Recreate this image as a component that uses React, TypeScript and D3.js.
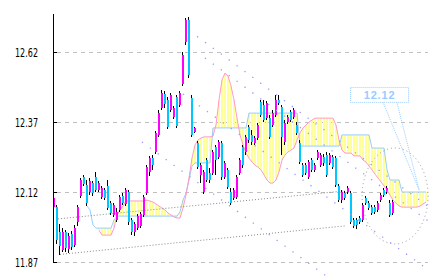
import React from 'react';
import * as d3 from 'd3';

const W = 433;
const H = 276;
const PLOT_LEFT = 53;
const PLOT_RIGHT = 428;
const PLOT_TOP = 14;
const PLOT_BOTTOM = 262;

const priceDomain = [11.87, 12.756];
const indexDomain = [0, 124];
const tickValues = [11.87, 12.12, 12.37, 12.62];
const tickLabels = ['11.87', '12.12', '12.37', '12.62'];

const opens = [
  12.066, 12.066, 11.977, 11.913, 11.977, 11.916, 11.970, 11.930, 12.013, 12.106,
  12.174, 12.145, 12.120, 12.152, 12.174, 12.127, 12.102, 12.127, 12.142, 12.080,
  12.038, 12.020, 12.056, 12.106, 12.077, 12.120, 12.020, 11.977, 11.991, 11.998,
  12.038, 12.116, 12.192, 12.241, 12.263, 12.324, 12.420, 12.470, 12.449, 12.413,
  12.388, 12.459, 12.431, 12.506, 12.656, 12.734, 12.456, 12.334, 12.295, 12.181,
  12.120, 12.234, 12.188, 12.188, 12.281, 12.245, 12.295, 12.174, 12.199, 12.120,
  12.098, 12.102, 12.188, 12.281, 12.263, 12.352, 12.324, 12.295, 12.313, 12.442,
  12.431, 12.384, 12.384, 12.359, 12.395, 12.449, 12.424, 12.299, 12.370, 12.406,
  12.388, 12.359, 12.295, 12.216, 12.216, 12.174, 12.234, 12.199, 12.241, 12.216,
  12.245, 12.252, 12.224, 12.245, 12.241, 12.142, 12.091, 12.116, 12.120, 12.116,
  12.020, 12.020, 12.027, 12.020, 12.098, 12.080, 12.066, 12.066, 12.056, 12.091,
  12.127, 12.120, 12.080, 12.045,
];

const closes = [
  12.098, 11.948, 11.927, 11.977, 11.919, 11.963, 11.923, 11.991, 12.066, 12.163,
  12.149, 12.080, 12.159, 12.116, 12.127, 12.152, 12.134, 12.098, 12.063, 12.045,
  12.073, 12.049, 12.102, 12.080, 12.127, 12.013, 11.977, 12.006, 12.034, 12.041,
  12.102, 12.209, 12.241, 12.216, 12.331, 12.402, 12.474, 12.435, 12.352, 12.467,
  12.420, 12.356, 12.474, 12.609, 12.734, 12.538, 12.324, 12.349, 12.209, 12.216,
  12.192, 12.163, 12.163, 12.263, 12.234, 12.299, 12.174, 12.224, 12.138, 12.080,
  12.127, 12.174, 12.234, 12.216, 12.317, 12.306, 12.299, 12.313, 12.359, 12.395,
  12.377, 12.438, 12.317, 12.402, 12.449, 12.438, 12.317, 12.367, 12.388, 12.377,
  12.413, 12.331, 12.227, 12.181, 12.188, 12.227, 12.199, 12.216, 12.263, 12.252,
  12.224, 12.181, 12.252, 12.209, 12.145, 12.091, 12.120, 12.098, 12.134, 12.013,
  11.998, 12.002, 12.013, 12.073, 12.080, 12.063, 12.045, 12.049, 12.080, 12.109,
  12.109, 12.134, 12.038, 12.084,
];

const highs = [
  12.106, 12.073, 12.006, 11.991, 11.984, 11.973, 11.980, 12.002, 12.073, 12.170,
  12.181, 12.163, 12.170, 12.159, 12.192, 12.159, 12.142, 12.134, 12.163, 12.088,
  12.080, 12.063, 12.109, 12.116, 12.134, 12.127, 12.027, 12.013, 12.041, 12.049,
  12.109, 12.216, 12.249, 12.252, 12.338, 12.413, 12.484, 12.481, 12.459, 12.474,
  12.427, 12.467, 12.481, 12.620, 12.742, 12.745, 12.467, 12.352, 12.302, 12.224,
  12.199, 12.241, 12.206, 12.270, 12.288, 12.306, 12.302, 12.231, 12.206, 12.134,
  12.134, 12.181, 12.241, 12.288, 12.324, 12.359, 12.341, 12.320, 12.367, 12.449,
  12.449, 12.445, 12.395, 12.413, 12.467, 12.467, 12.431, 12.377, 12.395, 12.413,
  12.420, 12.370, 12.306, 12.224, 12.224, 12.234, 12.241, 12.224, 12.270, 12.259,
  12.256, 12.263, 12.259, 12.252, 12.249, 12.149, 12.127, 12.124, 12.142, 12.124,
  12.027, 12.027, 12.034, 12.080, 12.106, 12.088, 12.073, 12.073, 12.088, 12.116,
  12.134, 12.142, 12.091, 12.091,
];

const lows = [
  12.056, 11.934, 11.895, 11.906, 11.906, 11.902, 11.913, 11.923, 11.998, 12.098,
  12.142, 12.070, 12.109, 12.106, 12.120, 12.120, 12.095, 12.091, 12.056, 12.038,
  12.031, 12.013, 12.049, 12.073, 12.070, 12.002, 11.966, 11.963, 11.984, 11.991,
  12.031, 12.109, 12.177, 12.199, 12.256, 12.317, 12.413, 12.420, 12.345, 12.406,
  12.381, 12.349, 12.424, 12.499, 12.645, 12.527, 12.317, 12.331, 12.202, 12.152,
  12.113, 12.156, 12.152, 12.181, 12.181, 12.238, 12.163, 12.167, 12.131, 12.073,
  12.091, 12.095, 12.181, 12.206, 12.252, 12.295, 12.288, 12.288, 12.306, 12.388,
  12.370, 12.377, 12.309, 12.352, 12.388, 12.431, 12.252, 12.288, 12.363, 12.370,
  12.381, 12.324, 12.220, 12.174, 12.181, 12.167, 12.192, 12.192, 12.234, 12.209,
  12.213, 12.174, 12.216, 12.202, 12.138, 12.084, 12.080, 12.091, 12.113, 12.006,
  11.991, 11.988, 12.006, 12.013, 12.073, 12.056, 12.038, 12.041, 12.049, 12.084,
  12.102, 12.113, 12.031, 12.038,
];

// Leading span A (pink) and leading span B (light blue), shifted forward
const spanA: (number | null)[] = [
  null, null, null, null, null, null, null, null, null, null,
  null, null, null, null, null, 11.984, 11.966, 11.966, 11.966, 11.966,
  11.991, 12.038, 12.056, 12.070, 12.088, 12.088, 12.088, 12.088, 12.088, 12.088,
  12.088, 12.091, 12.088, 12.084, 12.077, 12.070, 12.063, 12.056, 12.045, 12.038,
  12.031, 12.027, 12.027, 12.063, 12.109, 12.170, 12.241, 12.288, 12.306, 12.313,
  12.317, 12.317, 12.317, 12.320, 12.359, 12.449, 12.520, 12.545, 12.534, 12.499,
  12.449, 12.384, 12.324, 12.288, 12.259, 12.241, 12.227, 12.216, 12.209, 12.199,
  12.181, 12.163, 12.152, 12.152, 12.163, 12.192, 12.234, 12.252, 12.263, 12.270,
  12.277, 12.306, 12.331, 12.349, 12.359, 12.370, 12.377, 12.384, 12.384, 12.384,
  12.384, 12.384, 12.384, 12.384, 12.359, 12.306, 12.270, 12.259, 12.259, 12.259,
  12.249, 12.249, 12.249, 12.234, 12.227, 12.213, 12.199, 12.184, 12.170, 12.156,
  12.142, 12.127, 12.109, 12.091, 12.080, 12.070, 12.066, 12.066, 12.066, 12.066,
  12.066, 12.066, 12.070, 12.077, 12.084,
];

const spanB: (number | null)[] = [
  null, null, null, null, null, null, null, null, null, null,
  null, 12.070, 12.056, 12.002, 11.991, 11.991, 11.991, 11.991, 11.991, 11.991,
  12.020, 12.034, 12.034, 12.034, 12.034, 12.034, 12.034, 12.034, 12.034, 12.034,
  12.034, 12.034, 12.034, 12.034, 12.034, 12.034, 12.034, 12.034, 12.034, 12.034,
  12.034, 12.034, 12.049, 12.091, 12.116, 12.163, 12.213, 12.224, 12.224, 12.224,
  12.224, 12.224, 12.224, 12.349, 12.349, 12.349, 12.349, 12.349, 12.349, 12.349,
  12.349, 12.349, 12.349, 12.349, 12.349, 12.402, 12.402, 12.402, 12.402, 12.402,
  12.402, 12.402, 12.402, 12.402, 12.402, 12.402, 12.402, 12.402, 12.402, 12.402,
  12.402, 12.402, 12.284, 12.284, 12.284, 12.284, 12.284, 12.284, 12.284, 12.284,
  12.284, 12.284, 12.284, 12.284, 12.284, 12.284, 12.324, 12.324, 12.324, 12.324,
  12.324, 12.324, 12.324, 12.324, 12.324, 12.324, 12.277, 12.277, 12.277, 12.277,
  12.277, 12.199, 12.163, 12.163, 12.163, 12.163, 12.120, 12.120, 12.120, 12.120,
  12.120, 12.120, 12.120, 12.120, 12.120,
];

// Hand-drawn parallel trend lines (bar index, price)
const trendLines = [
  { x1: 47.7, p1: 12.676, x2: 125.3, p2: 12.064 },
  { x1: 50.3, p1: 12.599, x2: 125.3, p2: 12.012 },
  { x1: 29.3, p1: 12.299, x2: 90.7, p2: 11.82 },
  { x1: 43.0, p1: 12.47, x2: 125.3, p2: 11.838 },
];

// Rising gray channel lines
const channelLines = [
  { x1: 1.3, p1: 12.024, x2: 97, p2: 12.124 },
  { x1: 2.0, p1: 11.897, x2: 97, p2: 11.999 },
];

// Gray dotted ellipse
const ellipseCenter = { x: 113.7, p: 12.106 };
const ellipseRadius = { x: 11, p: 0.1715 };

// Price callout
const calloutLabel = '12.12';
const calloutBox = { x1: 98.7, x2: 118, pTop: 12.495, pBottom: 12.442 };
const calloutTailBase = [109.7, 114.3];
const calloutTarget = { x: 121.7, p: 12.127 };

const UP = '#ff00ff';
const DOWN = '#00c8ff';

export default function App() {
  const xs = d3.scaleLinear().domain(indexDomain).range([54, 426]);
  const ys = d3.scaleLinear().domain(priceDomain).range([PLOT_BOTTOM, PLOT_TOP]);

  const lineA = d3
    .line<number | null>()
    .defined((d) => d != null)
    .x((_, i) => xs(i))
    .y((d) => ys(d as number));

  const cloud = spanA
    .map((a, i) => ({ a, b: spanB[i], i }))
    .filter((d) => d.a != null && d.b != null);

  const cx = xs(ellipseCenter.x);
  const cy = ys(ellipseCenter.p);
  const rx = xs(ellipseCenter.x + ellipseRadius.x) - cx;
  const ry = ys(ellipseCenter.p - ellipseRadius.p) - cy;

  const bx1 = xs(calloutBox.x1);
  const bx2 = xs(calloutBox.x2);
  const by1 = ys(calloutBox.pTop);
  const by2 = ys(calloutBox.pBottom);

  return (
    <svg
      width={W}
      height={H}
      viewBox={`0 0 ${W} ${H}`}
      style={{ position: 'absolute', left: 0, top: 0, background: '#fff' }}
    >
      {/* gridlines */}
      {tickValues.map((t) => (
        <line
          key={'g' + t}
          x1={PLOT_LEFT + 4}
          x2={PLOT_RIGHT}
          y1={Math.round(ys(t)) + 0.5}
          y2={Math.round(ys(t)) + 0.5}
          stroke="#c0c0c0"
          strokeDasharray="4 4"
        />
      ))}

      {/* cloud stripes */}
      {cloud.map((d) => {
        const y1 = ys(d.a as number);
        const y2 = ys(d.b as number);
        return (
          <rect
            key={'c' + d.i}
            x={xs(d.i) - 1}
            width={2}
            y={Math.min(y1, y2)}
            height={Math.max(1, Math.abs(y1 - y2))}
            fill="#ffff99"
            shapeRendering="crispEdges"
          />
        );
      })}

      {/* span lines */}
      <path d={lineA(spanB) || ''} fill="none" stroke="#99ccff" strokeWidth={1} />
      <path d={lineA(spanA) || ''} fill="none" stroke="#ff99cc" strokeWidth={1} />

      {/* gray channel lines */}
      {channelLines.map((l, k) => (
        <line
          key={'ch' + k}
          x1={xs(l.x1)}
          y1={ys(l.p1)}
          x2={xs(l.x2)}
          y2={ys(l.p2)}
          stroke="#888"
          strokeWidth={1}
          strokeDasharray="1 2"
        />
      ))}

      {/* gray ellipse */}
      <ellipse
        cx={cx}
        cy={cy}
        rx={rx}
        ry={ry}
        fill="none"
        stroke="#999"
        strokeWidth={1}
        strokeDasharray="1 3"
      />

      {/* candles */}
      {opens.map((o, i) => {
        const c = closes[i];
        const x = xs(i);
        const yo = ys(o);
        const yc = ys(c);
        return (
          <g key={'k' + i} shapeRendering="crispEdges">
            <line x1={x - 0.5} x2={x - 0.5} y1={ys(highs[i])} y2={ys(lows[i])} stroke="#000" strokeWidth={1} />
            <rect
              x={x - 1}
              width={2}
              y={Math.min(yo, yc)}
              height={Math.max(1, Math.abs(yo - yc))}
              fill={c >= o ? UP : DOWN}
            />
          </g>
        );
      })}

      {/* lavender trend lines */}
      {trendLines.map((l, k) => (
        <line
          key={'t' + k}
          x1={xs(l.x1)}
          y1={ys(l.p1)}
          x2={xs(l.x2)}
          y2={ys(l.p2)}
          stroke="#9999ff"
          strokeWidth={1.3}
          strokeDasharray="1.3 8.5"
        />
      ))}

      {/* callout */}
      <rect
        x={bx1 + 0.5}
        y={by1 + 0.5}
        width={bx2 - bx1}
        height={by2 - by1}
        fill="none"
        stroke="#99ccff"
        strokeDasharray="1 1"
      />
      {calloutTailBase.map((bx, k) => (
        <line
          key={'tail' + k}
          x1={xs(bx)}
          y1={by2 + 0.5}
          x2={xs(calloutTarget.x)}
          y2={ys(calloutTarget.p)}
          stroke="#99ccff"
          strokeDasharray="1 1"
        />
      ))}
      <text
        x={(bx1 + bx2) / 2 + 0.5}
        y={(by1 + by2) / 2 + 4.5}
        textAnchor="middle"
        fontFamily="Liberation Sans, Arial, sans-serif"
        fontWeight="bold"
        fontSize={11}
        letterSpacing={0.8}
        fill="#99ccff"
      >
        {calloutLabel}
      </text>

      {/* axis */}
      <line x1={PLOT_LEFT + 0.5} x2={PLOT_LEFT + 0.5} y1={PLOT_TOP} y2={PLOT_BOTTOM + 1} stroke="#000" strokeWidth={1} />
      {tickValues.map((t, k) => (
        <g key={'tk' + t}>
          <line
            x1={PLOT_LEFT}
            x2={PLOT_LEFT + 4}
            y1={Math.round(ys(t)) + 0.5}
            y2={Math.round(ys(t)) + 0.5}
            stroke="#000"
          />
          <text
            x={38}
            y={ys(t) + 4.5}
            textAnchor="end"
            fontFamily="DejaVu Sans, sans-serif"
            fontSize={12}
            textLength={23}
            lengthAdjust="spacingAndGlyphs"
            fill="#000"
          >
            {tickLabels[k]}
          </text>
        </g>
      ))}
    </svg>
  );
}
